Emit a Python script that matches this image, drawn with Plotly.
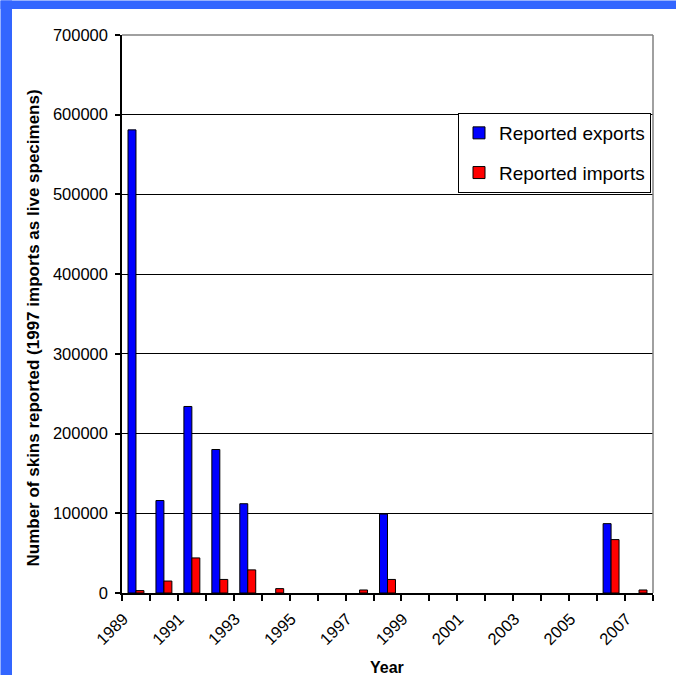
import plotly.graph_objects as go

years = list(range(1989, 2008))
exports = [581000, 116000, 234000, 180000, 112000, 0, 0, 0, 0, 99000,
           0, 0, 0, 0, 0, 0, 0, 87000, 0]
imports = [3000, 15000, 44000, 17000, 29000, 5500, 0, 0, 3800, 17000,
           0, 0, 0, 0, 0, 0, 0, 67000, 3800]
label_years = list(range(1989, 2008, 2))

FONT = "Liberation Sans, Arial, sans-serif"

L, R, T, B = 122, 653, 35, 593
W, H = R - L, B - T
FW, FH = 677, 676


def px_x(p):
    return (p - L) / W


def px_y(p):
    return (B - p) / H


def nz(vals):
    return [v if v else None for v in vals]


fig = go.Figure()
fig.add_trace(go.Bar(x=years, y=nz(exports), name="Reported exports",
                     marker=dict(color="#0000FF", line=dict(color="black", width=1)),
                     legendgroup="a"))
fig.add_trace(go.Bar(x=years, y=nz(imports), name="Reported imports",
                     marker=dict(color="#FF0000", line=dict(color="black", width=1)),
                     legendgroup="b"))

fig.update_layout(
    width=FW, height=FH,
    margin=dict(l=L, r=FW - R, t=T, b=FH - B),
    paper_bgcolor="white",
    plot_bgcolor="white",
    barmode="group", bargap=0.43, bargroupgap=0,
    font=dict(family=FONT, size=16, color="black"),
    showlegend=True,
    legend=dict(x=px_x(651), xanchor="right", y=px_y(113), yanchor="top",
                bgcolor="white", bordercolor="black", borderwidth=1,
                font=dict(size=19), tracegroupgap=12, itemwidth=30),
    shapes=[
        dict(type="rect", xref="paper", yref="paper",
             x0=px_x(0.5), x1=px_x(12), y0=px_y(FH - 1), y1=px_y(0.5),
             fillcolor="#3366FF", line=dict(width=0), layer="below"),
        dict(type="rect", xref="paper", yref="paper",
             x0=px_x(0.5), x1=px_x(FW - 1), y0=px_y(9), y1=px_y(0.5),
             fillcolor="#3366FF", line=dict(width=0), layer="below"),
        dict(type="line", xref="paper", yref="paper", x0=0, x1=1, y0=1, y1=1,
             line=dict(color="#808080", width=1.5)),
        dict(type="line", xref="paper", yref="paper", x0=1, x1=1, y0=0, y1=1,
             line=dict(color="#808080", width=1.5)),
    ],
    annotations=[
        dict(text="<b>Year</b>", xref="paper", yref="paper",
             x=px_x(387), y=px_y(676), xanchor="center", yanchor="bottom",
             yshift=-2, showarrow=False, font=dict(size=16)),
        dict(text="<b>Number of skins reported (1997 imports as live specimens)</b>",
             xref="paper", yref="paper", x=px_x(33), y=px_y(328.5),
             xanchor="center", yanchor="middle", textangle=-90,
             showarrow=False, font=dict(size=17)),
    ],
)

fig.update_xaxes(
    range=[1988.5, 2007.5],
    tickmode="array", tickvals=[y - 0.45 for y in label_years],
    ticktext=[str(y) for y in label_years],
    tickangle=-45, ticks="", showgrid=False,
    showline=True, linecolor="black", linewidth=1.5,
    tickfont=dict(size=16.5), ticklabelstandoff=8,
    minor=dict(tickmode="array", tickvals=[y - 0.5 for y in years] + [2007.5],
               ticks="outside", ticklen=6, tickcolor="black", tickwidth=1.5, showgrid=False),
)
fig.update_yaxes(
    range=[0, 700000], dtick=100000, tickformat="d",
    showgrid=True, gridcolor="black", gridwidth=1,
    zeroline=False,
    showline=True, linecolor="black", linewidth=1.5,
    ticks="outside", ticklen=5, tickcolor="black", tickwidth=1.5,
    tickfont=dict(size=16.5), ticklabelstandoff=4,
)

fig.write_html("out.html")
